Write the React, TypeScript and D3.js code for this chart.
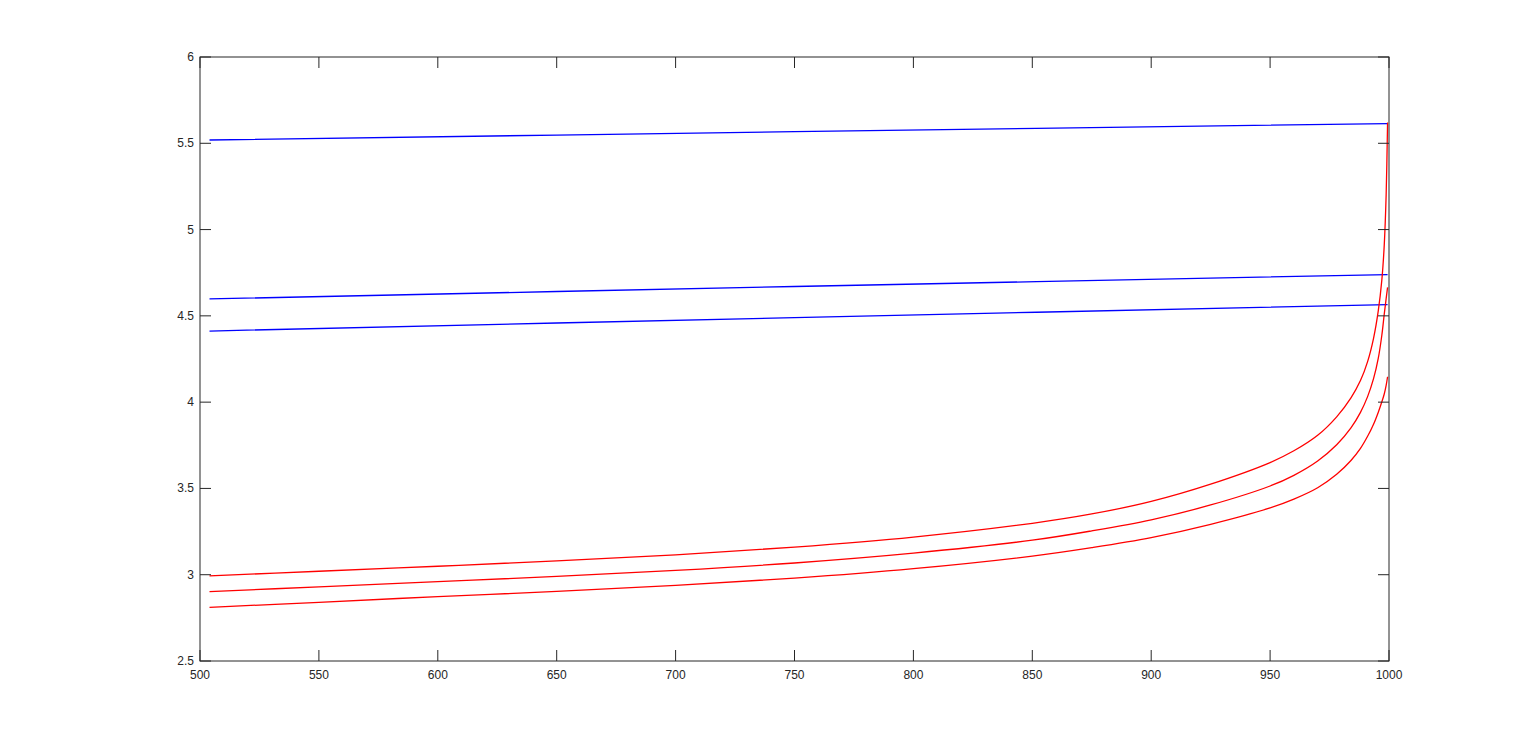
import React, { useEffect, useRef } from 'react';
import * as d3 from 'd3';

// x positions shared by the red curves
const xRed = [504, 550, 600, 650, 700, 750, 800, 850, 875, 900, 925, 950, 960, 970, 978, 984, 988, 991, 993.5, 995.5, 997, 998, 998.8, 999.4];
const redTop = [2.993, 3.02, 3.049, 3.08, 3.115, 3.16, 3.218, 3.298, 3.352, 3.425, 3.525, 3.65, 3.718, 3.808, 3.915, 4.025, 4.125, 4.235, 4.37, 4.53, 4.71, 4.91, 5.2, 5.62];
const redMid = [2.902, 2.93, 2.96, 2.99, 3.025, 3.068, 3.125, 3.2, 3.254, 3.318, 3.404, 3.514, 3.576, 3.659, 3.753, 3.851, 3.941, 4.032, 4.136, 4.255, 4.389, 4.51, 4.6, 4.665];
const redBot = [2.811, 2.84, 2.873, 2.903, 2.938, 2.98, 3.035, 3.108, 3.157, 3.215, 3.292, 3.387, 3.438, 3.504, 3.582, 3.662, 3.732, 3.802, 3.872, 3.942, 4.002, 4.047, 4.097, 4.147];

const xBlue = [504, 750, 999.4];
const blueTop = [5.519, 5.567, 5.614];
const blueMid = [4.598, 4.67, 4.739];
const blueBot = [4.412, 4.49, 4.565];

const xTicks = [500, 550, 600, 650, 700, 750, 800, 850, 900, 950, 1000];
const yTicks = [2.5, 3, 3.5, 4, 4.5, 5, 5.5, 6];

export default function App() {
  const ref = useRef<SVGSVGElement | null>(null);

  useEffect(() => {
    if (!ref.current) return;
    const svg = d3.select(ref.current);
    svg.selectAll('*').remove();

    const left = 200, right = 1389, top = 57, bottom = 661;
    const x = d3.scaleLinear().domain([500, 1000]).range([left, right]);
    const y = d3.scaleLinear().domain([2.5, 6]).range([bottom, top]);
    const tick = 11;
    const axisColor = '#262626';

    const series = [
      { xs: xBlue, ys: blueTop, color: '#0000ff' },
      { xs: xBlue, ys: blueMid, color: '#0000ff' },
      { xs: xBlue, ys: blueBot, color: '#0000ff' },
      { xs: xRed, ys: redTop, color: '#ff0000' },
      { xs: xRed, ys: redMid, color: '#ff0000' },
      { xs: xRed, ys: redBot, color: '#ff0000' },
    ];

    const line = d3.line<[number, number]>()
      .x(d => x(d[0]))
      .y(d => y(d[1]))
      .curve(d3.curveCatmullRom.alpha(0.5));

    series.forEach(s => {
      svg.append('path')
        .datum(s.xs.map((v, i) => [v, s.ys[i]] as [number, number]))
        .attr('d', line)
        .attr('fill', 'none')
        .attr('stroke', s.color)
        .attr('stroke-width', 1.3);
    });

    // box
    svg.append('rect')
      .attr('x', left).attr('y', top)
      .attr('width', right - left).attr('height', bottom - top)
      .attr('fill', 'none').attr('stroke', axisColor).attr('stroke-width', 1);

    const g = svg.append('g').attr('stroke', axisColor).attr('stroke-width', 1);
    xTicks.forEach(t => {
      g.append('line').attr('x1', x(t)).attr('x2', x(t)).attr('y1', bottom).attr('y2', bottom - tick);
      g.append('line').attr('x1', x(t)).attr('x2', x(t)).attr('y1', top).attr('y2', top + tick);
    });
    yTicks.forEach(t => {
      g.append('line').attr('x1', left).attr('x2', left + tick).attr('y1', y(t)).attr('y2', y(t));
      g.append('line').attr('x1', right).attr('x2', right - tick).attr('y1', y(t)).attr('y2', y(t));
    });

    svg.selectAll('.xlab').data(xTicks).enter().append('text')
      .attr('x', d => x(d)).attr('y', bottom + 18)
      .attr('text-anchor', 'middle')
      .attr('font-family', 'Liberation Sans, Arial, sans-serif')
      .attr('font-size', 12)
      .attr('fill', axisColor)
      .text(d => String(d));

    svg.selectAll('.ylab').data(yTicks).enter().append('text')
      .attr('x', left - 6).attr('y', d => y(d) + 4)
      .attr('text-anchor', 'end')
      .attr('font-family', 'Liberation Sans, Arial, sans-serif')
      .attr('font-size', 12)
      .attr('fill', axisColor)
      .text(d => String(d));
  }, []);

  return (
    <div style={{ position: 'fixed', left: 0, top: 0, width: 1536, height: 744, background: '#fff' }}>
      <svg ref={ref} width={1536} height={744}></svg>
    </div>
  );
}
